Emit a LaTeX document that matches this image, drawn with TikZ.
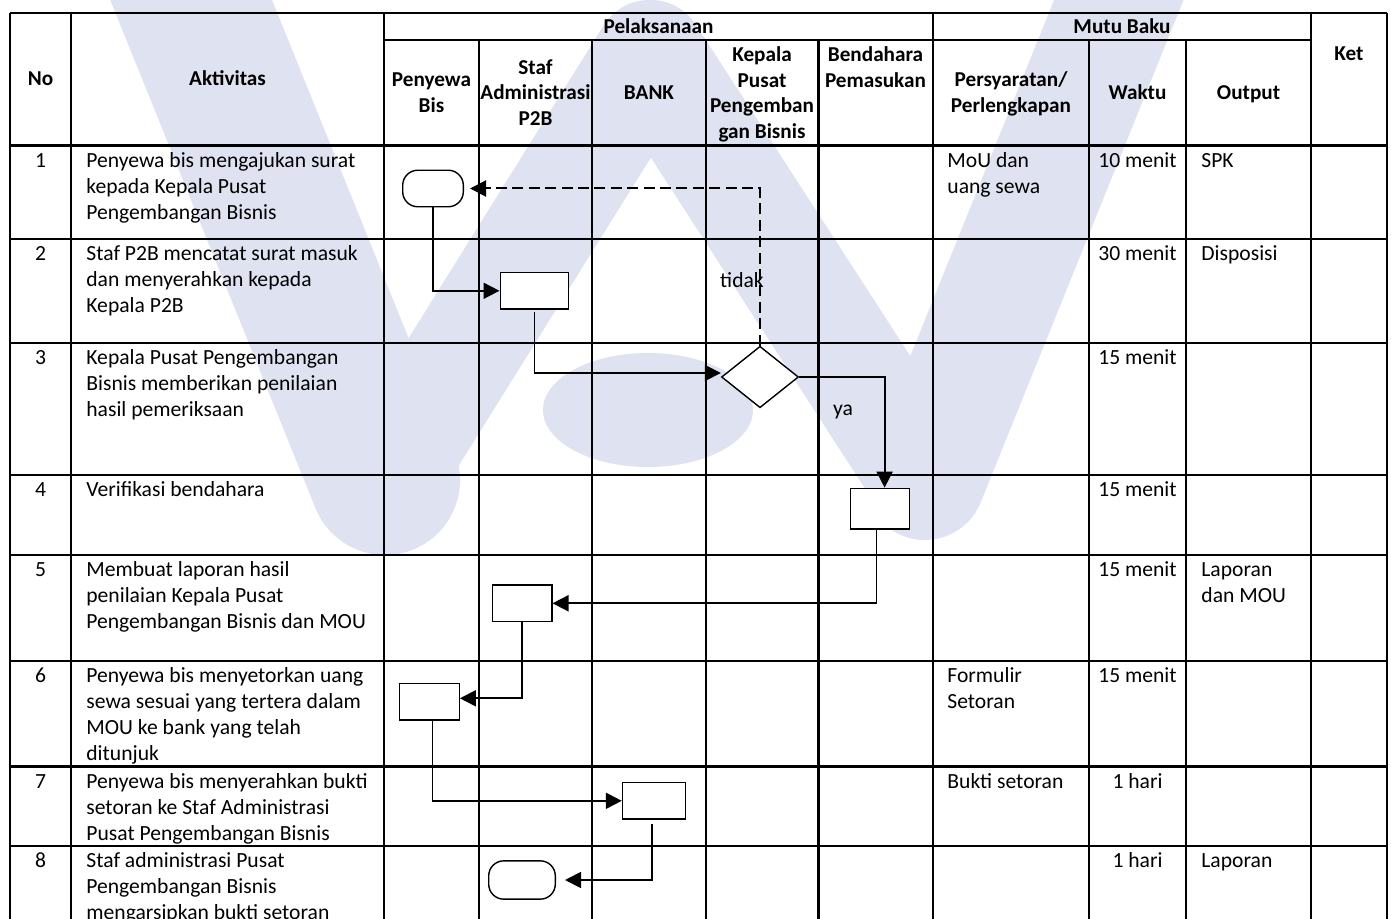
\documentclass[tikz,border=0pt]{standalone}
\usepackage{fontspec}
\setmainfont{Carlito}
\usetikzlibrary{arrows.meta,shapes.geometric}
\definecolor{wm}{RGB}{223,226,240}
\begin{document}
\begin{tikzpicture}[x=0.5pt,y=-0.5pt,
  grid/.style={line width=1.3pt},
  box/.style={draw,line width=0.7pt,fill=white,rectangle,inner sep=0},
  term/.style={box,rounded corners=7.5pt},
  dec/.style={draw,line width=0.7pt,fill=white,diamond,inner sep=0},
  flow/.style={line width=0.9pt,-{Triangle[length=8pt,width=8pt]}},
  txt/.style={font=\fontsize{10.8}{12.9}\selectfont,inner sep=0,align=left,anchor=north west},
  ctr/.style={font=\fontsize{10.8}{12.9}\selectfont,inner sep=0,align=center,anchor=north},
  hdr/.style={font=\bfseries\fontsize{10.6}{12.8}\selectfont,inner sep=0,align=center,anchor=north},
  lbl/.style={font=\fontsize{10.8}{12.9}\selectfont,inner sep=0},
  wmark/.style={draw=wm,line join=round,line cap=round}
]
\clip (0,0) rectangle (1391,919);
\fill[white] (0,0) rectangle (1391,919);
% watermark
\draw[wmark,line width=75pt] (175,-40) -- (385,480);
\draw[wmark,line width=55pt] (385,480) -- (650,55) -- (925,480);
\draw[wmark,line width=60pt] (925,480) -- (1135,-40);
\fill[wm] (648,410) ellipse [x radius=105, y radius=57];

% table grid
\draw[grid] (10,13) -- (1387,13);
\draw[grid] (384,40) -- (1311,40);
\foreach \yy in {145.5,239,343,475,555,661,766.5,846}{
  \draw[grid] (10,\yy) -- (1387,\yy);
}
\foreach \xx in {10,71,384,933,1311,1387}{
  \draw[grid] (\xx,13) -- (\xx,930);
}
\foreach \xx in {479,592,706,818.5,1089,1186}{
  \draw[grid] (\xx,40) -- (\xx,930);
}

% headers
\node[hdr] (hNo) at (40.5,67) {\strut No};
\node[hdr] (hAkt) at (227.5,67) {\strut Aktivitas};
\node[hdr] (hPel) at (658.5,15) {\strut Pelaksanaan};
\node[hdr] (hMutu) at (1122,15) {\strut Mutu Baku};
\node[hdr] (hKet) at (1349,42) {\strut Ket};
\node[hdr] (hPen) at (431.5,68.4) {\strut Penyewa\\Bis};
\node[hdr] (hStaf) at (535.5,55.8) {\strut Staf\\Administrasi\\P2B};
\node[hdr] (hBank) at (649,81) {\strut BANK};
\node[hdr] (hKep) at (762,43.3) {\strut Kepala\\Pusat\\Pengemban\\gan Bisnis};
\node[hdr] (hBen) at (875.5,43.3) {\strut Bendahara\\Pemasukan};
\node[hdr] (hPer) at (1011,68.4) {\strut Persyaratan/\\Perlengkapan};
\node[hdr] (hWak) at (1137.5,81) {\strut Waktu};
\node[hdr] (hOut) at (1248.5,81) {\strut Output};

% row 1
\node[ctr] (n1) at (40.5,149) {\strut 1};
\node[txt] (a1) at (86,149) {\strut Penyewa bis mengajukan surat\\kepada Kepala Pusat\\Pengembangan Bisnis};
\node[txt] (p1) at (947,149) {\strut MoU dan\\uang sewa};
\node[ctr] (w1) at (1137.5,149) {\strut 10 menit};
\node[txt] (o1) at (1201,149) {\strut SPK};
% row 2
\node[ctr] (n2) at (40.5,242.5) {\strut 2};
\node[txt] (a2) at (86,242.5) {\strut Staf P2B mencatat surat masuk\\dan menyerahkan kepada\\Kepala P2B};
\node[ctr] (w2) at (1137.5,242.5) {\strut 30 menit};
\node[txt] (o2) at (1201,242.5) {\strut Disposisi};
% row 3
\node[ctr] (n3) at (40.5,346.5) {\strut 3};
\node[txt] (a3) at (86,346.5) {\strut Kepala Pusat Pengembangan\\Bisnis memberikan penilaian\\hasil pemeriksaan};
\node[ctr] (w3) at (1137.5,346.5) {\strut 15 menit};
% row 4
\node[ctr] (n4) at (40.5,478.5) {\strut 4};
\node[txt] (a4) at (86,478.5) {\strut Verifikasi bendahara};
\node[ctr] (w4) at (1137.5,478.5) {\strut 15 menit};
% row 5
\node[ctr] (n5) at (40.5,558.5) {\strut 5};
\node[txt] (a5) at (86,558.5) {\strut Membuat laporan hasil\\penilaian Kepala Pusat\\Pengembangan Bisnis dan MOU};
\node[ctr] (w5) at (1137.5,558.5) {\strut 15 menit};
\node[txt] (o5) at (1201,558.5) {\strut Laporan\\dan MOU};
% row 6
\node[ctr] (n6) at (40.5,664.5) {\strut 6};
\node[txt] (a6) at (86,664.5) {\strut Penyewa bis menyetorkan uang\\sewa sesuai yang tertera dalam\\MOU ke bank yang telah\\ditunjuk};
\node[txt] (p6) at (947,664.5) {\strut Formulir\\Setoran};
\node[ctr] (w6) at (1137.5,664.5) {\strut 15 menit};
% row 7
\node[ctr] (n7) at (40.5,770) {\strut 7};
\node[txt] (a7) at (86,770) {\strut Penyewa bis menyerahkan bukti\\setoran ke Staf Administrasi\\Pusat Pengembangan Bisnis};
\node[txt] (p7) at (947,770) {\strut Bukti setoran};
\node[ctr] (w7) at (1137.5,770) {\strut 1 hari};
% row 8
\node[ctr] (n8) at (40.5,849.5) {\strut 8};
\node[txt] (a8) at (86,849.5) {\strut Staf administrasi Pusat\\Pengembangan Bisnis\\mengarsipkan bukti setoran};
\node[ctr] (w8) at (1137.5,849.5) {\strut 1 hari};
\node[txt] (o8) at (1201,849.5) {\strut Laporan};

% flow shapes
\node[term,minimum width=30.3pt,minimum height=18.25pt] (T1) at (433,188.5) {};
\node[box,minimum width=34.2pt,minimum height=18.25pt] (R2) at (534.4,290.8) {};
\node[dec,minimum width=38.5pt,minimum height=30.75pt] (D3) at (760,377) {};
\node[box,minimum width=29.25pt,minimum height=20.35pt] (R4) at (880,508.7) {};
\node[box,minimum width=29.8pt,minimum height=18.35pt] (R5) at (522,603.3) {};
\node[box,minimum width=30pt,minimum height=18.35pt] (R6) at (429.2,701.7) {};
\node[box,minimum width=31.5pt,minimum height=18.15pt] (R7) at (654,800.8) {};
\node[term,minimum width=33.3pt,minimum height=19.15pt] (T8) at (522,880) {};

% connectors
\draw[flow] (T1.south) |- (R2.west);
\draw[flow] ([yshift=-1pt]R2.south) |- ([yshift=2pt]D3.west);
\draw[flow,dashed,line width=1pt,dash pattern=on 5.5pt off 2.7pt,shorten >=3pt] (D3.north) |- (T1.east);
\draw[flow] (D3.east) -| ([xshift=2.3pt]R4.north);
\draw[flow] ([xshift=-1.8pt]R4.south) |- (R5.east);
\draw[flow] (R5.south) |- ([yshift=1.7pt]R6.east);
\draw[flow] ([xshift=1.6pt]R6.south) |- (R7.west);
\draw[flow,shorten >=4.5pt] ([xshift=-1.1pt,yshift=-2pt]R7.south) |- (T8.east);

% labels
\node[lbl] (ltidak) at (742,280) {tidak};
\node[lbl] (lya) at (843,412) {ya};
\end{tikzpicture}
\end{document}
